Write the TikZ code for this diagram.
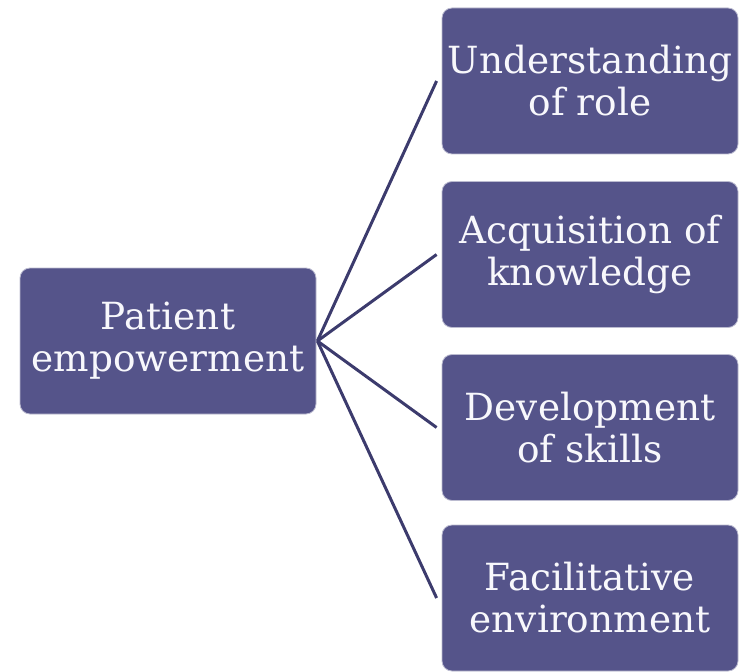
\documentclass[tikz,border=0pt]{standalone}
\usepackage{fontspec}
\setmainfont{DejaVu Serif}
\definecolor{boxfill}{HTML}{55548A}
\definecolor{linecol}{HTML}{3C3B6D}
\definecolor{textcol}{HTML}{F8F8FC}
\tikzset{
  box/.style={rectangle, rounded corners=10pt, fill=boxfill, draw=boxfill!40!white, line width=0.8pt,
    minimum width=296pt, minimum height=146pt, inner sep=0pt, align=center, text=textcol,
    font=\fontsize{37.4pt}{42pt}\selectfont},
  link/.style={draw=linecol, line width=3pt}
}
\begin{document}
\begin{tikzpicture}[x=1pt,y=-1pt]
\useasboundingbox (0,0) rectangle (743,671);
\node[box] (pe) at (168,341) {Patient\\empowerment};
\node[box] (r1) at (590,81) {Understanding\\of role};
\node[box] (r2) at (590,254.5) {Acquisition of\\knowledge};
\node[box] (r3) at (590,427.5) {Development\\of skills};
\node[box] (r4) at (590,598) {Facilitative\\environment};
\foreach \r in {r1,r2,r3,r4}
  \draw[link] ([xshift=1pt]pe.east) -- ([xshift=-5pt]\r.west);
\end{tikzpicture}
\end{document}
